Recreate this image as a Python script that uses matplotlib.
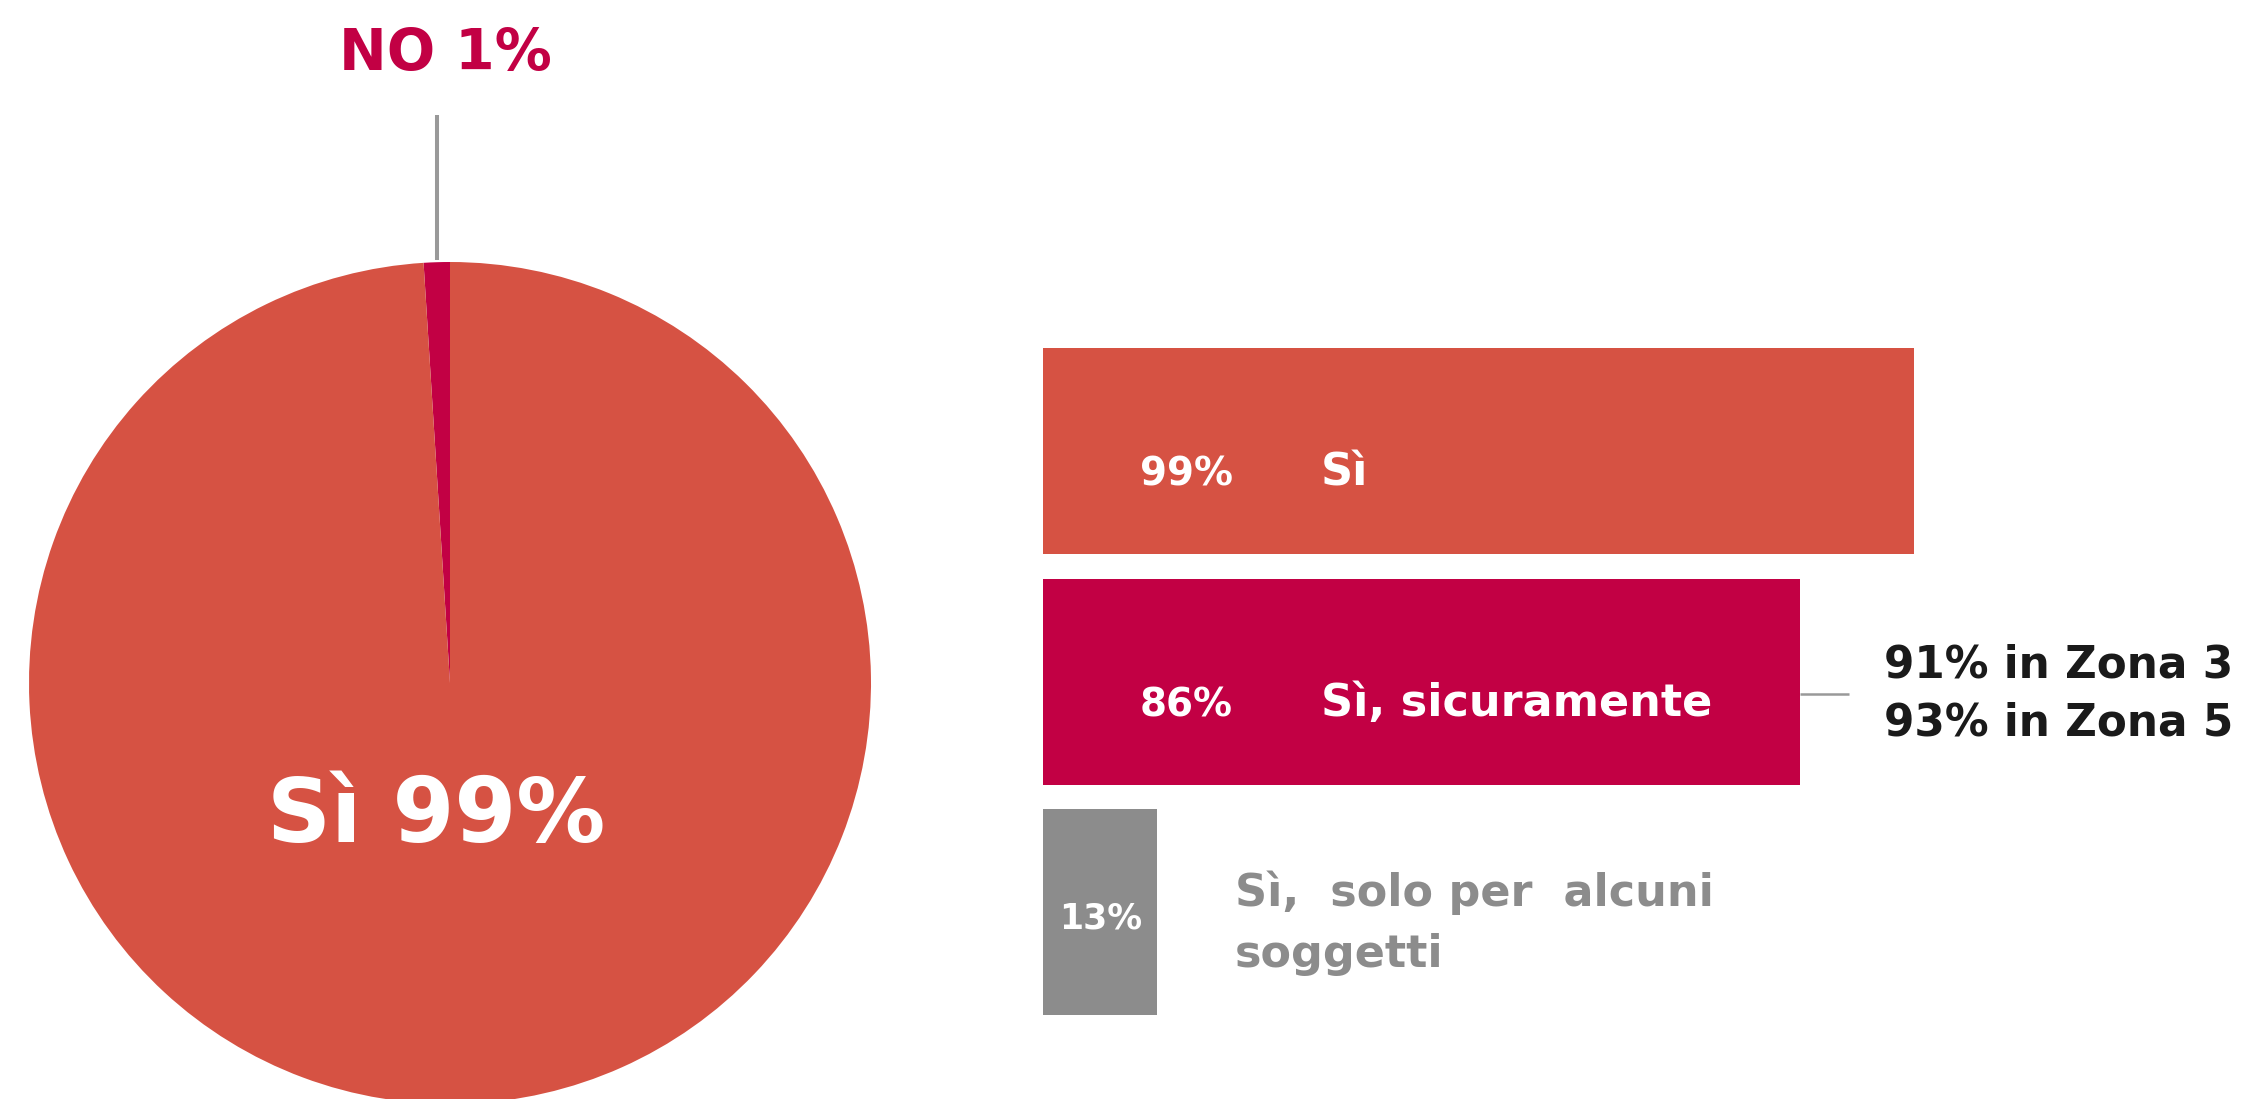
import numpy as np
import matplotlib
matplotlib.use("Agg")
import matplotlib.pyplot as plt

# pie: share of "yes" vs "no"
pie_labels = ["NO", "Sì"]
pie_values = [1, 99]

# bars: breakdown of the "yes" answers
bar_values = [99, 86, 13]
bar_pct_labels = ["99%", "86%", "13%"]
bar_labels = ["Sì", "Sì, sicuramente", "Sì,  solo per  alcuni\nsoggetti"]
zone_note = "91% in Zona 3\n93% in Zona 5"

ORANGE = "#D65243"
CRIMSON = "#C20044"
GREY = "#8C8C8C"
LINE_GREY = "#999999"
DARK = "#1A1A1A"

W, H = 2247, 1099
plt.rcParams["font.family"] = ["DejaVu Sans"]
plt.rcParams["font.weight"] = "bold"

fig = plt.figure(figsize=(W / 100, H / 100), dpi=100)


def px_axes(left, top, width, height):
    # axes placed by pixel box (top-left origin)
    return fig.add_axes([left / W, 1 - (top + height) / H, width / W, height / H])


def multiline(ax, x, y, text, step, **kw):
    # one text per line so the baseline gap is exact (step in data units, y down)
    for k, line in enumerate(text.split("\n")):
        ax.text(x, y + k * step, line, va="baseline", **kw)


# ---- pie ----
R = 421
cx, cy = 450, 683
ax_pie = px_axes(cx - R, cy - R, 2 * R, 2 * R)
ax_pie.pie(pie_values, colors=[CRIMSON, ORANGE], startangle=90,
           counterclock=True, radius=1, wedgeprops=dict(linewidth=0))
ax_pie.set_xlim(-1, 1)
ax_pie.set_ylim(-1, 1)
ax_pie.set_aspect("equal")
ax_pie.axis("off")

# leader line for the small "NO" slice, at its mid angle
mid = np.deg2rad(90 + 360 * pie_values[0] / sum(pie_values) / 2)
lx = np.cos(mid)
ax_pie.plot([lx, lx], [1.005, 1.349], color=LINE_GREY, lw=2.9,
            solid_capstyle="butt", clip_on=False)
ax_pie.text(-0.012, 1.456, f"{pie_labels[0]} {pie_values[0]}%", color=CRIMSON,
            fontsize=41, ha="center", va="baseline", clip_on=False)
ax_pie.text(-0.033, -0.378, f"{pie_labels[1]} {pie_values[1]}%", color="white",
            fontsize=64, ha="center", va="baseline")

# ---- bars ----
PX_PER_PCT = 8.8
x0 = 1043
y_first, y_step = 451, 230.5
ax_bar = px_axes(x0, y_first - y_step / 2, W - x0, 3 * y_step)
ax_bar.set_xlim(0, (W - x0) / PX_PER_PCT)
ax_bar.set_ylim(2.5, -0.5)
ax_bar.axis("off")

pos = np.arange(len(bar_values))
bar_colors = [ORANGE, CRIMSON, GREY]
ax_bar.barh(pos, bar_values, height=206 / y_step, color=bar_colors, linewidth=0)

for i in range(2):
    ax_bar.text(11.0, pos[i] + 0.15, bar_pct_labels[i], color="white",
                fontsize=28, ha="left", va="baseline")
    ax_bar.text(31.6, pos[i] + 0.15, bar_labels[i], color="white",
                fontsize=32, ha="left", va="baseline")

ax_bar.text(bar_values[2] / 2, pos[2] + 0.03, bar_pct_labels[2], color="white",
            fontsize=25, ha="center", va="center")
multiline(ax_bar, 21.8, pos[2] - 0.026, bar_labels[2], 61 / y_step,
          color=GREY, fontsize=32, ha="left")

# connector + zone note for "sicuramente"
ax_bar.plot([bar_values[1], bar_values[1] + 5.6], [pos[1] + 0.056] * 2,
            color=LINE_GREY, lw=1.8, solid_capstyle="butt")
multiline(ax_bar, 95.6, pos[1] - 0.017, zone_note, 58 / y_step,
          color=DARK, fontsize=31.5, ha="left")

fig.savefig("out.png", dpi=100)
plt.close(fig)
